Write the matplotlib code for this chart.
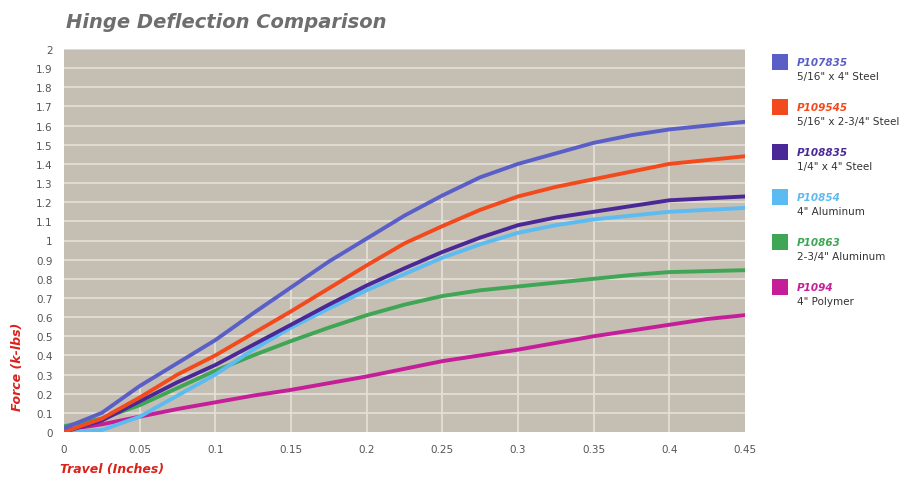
import numpy as np
import matplotlib
matplotlib.use("Agg")
import matplotlib.pyplot as plt
from matplotlib.patches import Rectangle

travel = [0, 0.025, 0.05, 0.075, 0.1, 0.125, 0.15, 0.175, 0.2, 0.225, 0.25,
          0.275, 0.3, 0.325, 0.35, 0.375, 0.4, 0.425, 0.45]

p107835 = [0.02, 0.10, 0.24, 0.36, 0.48, 0.62, 0.755, 0.89, 1.01, 1.13, 1.235,
           1.33, 1.40, 1.455, 1.51, 1.55, 1.58, 1.60, 1.62]
p109545 = [0.00, 0.07, 0.18, 0.30, 0.40, 0.515, 0.63, 0.75, 0.87, 0.985, 1.075,
           1.16, 1.23, 1.28, 1.32, 1.36, 1.40, 1.42, 1.44]
p108835 = [0.00, 0.06, 0.16, 0.26, 0.35, 0.455, 0.56, 0.665, 0.765, 0.855, 0.94,
           1.015, 1.08, 1.12, 1.15, 1.18, 1.21, 1.22, 1.23]
p10854 = [0.00, 0.01, 0.08, 0.19, 0.30, 0.43, 0.545, 0.645, 0.74, 0.825, 0.91,
          0.98, 1.04, 1.08, 1.11, 1.13, 1.15, 1.16, 1.17]
p10863 = [0.03, 0.07, 0.14, 0.23, 0.32, 0.40, 0.475, 0.545, 0.61, 0.665, 0.71,
          0.74, 0.76, 0.78, 0.80, 0.82, 0.835, 0.84, 0.845]
p1094 = [0.01, 0.04, 0.08, 0.12, 0.155, 0.19, 0.22, 0.255, 0.29, 0.33, 0.37,
         0.40, 0.43, 0.465, 0.50, 0.53, 0.56, 0.59, 0.61]

codes = ["P107835", "P109545", "P108835", "P10854", "P10863", "P1094"]
descriptions = ['5/16" x 4" Steel', '5/16" x 2-3/4" Steel', '1/4" x 4" Steel',
                '4" Aluminum', '2-3/4" Aluminum', '4" Polymer']
series = [p107835, p109545, p108835, p10854, p10863, p1094]
colors = ["#5a5fc8", "#f24a1c", "#4b2898", "#5cbcf2", "#3ea654", "#c41f98"]

y_ticks = [round(0.1 * i, 1) for i in range(21)]
y_labels = ["0" if v == 0 else ("%g" % v) for v in y_ticks]
x_ticks = [0, 0.05, 0.1, 0.15, 0.2, 0.25, 0.3, 0.35, 0.4, 0.45]
x_labels = ["0", "0.05", "0.1", "0.15", "0.2", "0.25", "0.3", "0.35", "0.4", "0.45"]

fig = plt.figure(figsize=(9.1, 4.81), dpi=100)
fig.patch.set_facecolor("white")
ax = fig.add_axes([64 / 910, 1 - 433 / 481, (745 - 64) / 910, (433 - 50) / 481])
ax.set_facecolor("#c5beb3")
ax.set_xlim(0, 0.45)
ax.set_ylim(0, 2)
for s in ax.spines.values():
    s.set_visible(False)

grid_c = "#e4dfd6"
for yv in y_ticks[1:]:
    ax.axhline(yv, color=grid_c, lw=1.3, zorder=1)
inner = np.array(x_ticks[1:-1])
ax.vlines(inner, 0, np.interp(inner, travel, p107835), color=grid_c, lw=1.3, zorder=1)

for ys, c in zip(series[::-1], colors[::-1]):
    ax.plot(travel, ys, color=c, lw=2.8, solid_capstyle="round",
            solid_joinstyle="round", zorder=3)

ax.set_yticks(y_ticks)
ax.set_yticklabels(y_labels)
ax.set_xticks(x_ticks)
ax.set_xticklabels(x_labels)
ax.tick_params(axis="both", length=0, labelsize=7.5, colors="#555555")
ax.tick_params(axis="y", pad=8)
ax.tick_params(axis="x", pad=9)

fig.text(66 / 910, 1 - 22 / 481, "Hinge Deflection Comparison", fontsize=14,
         fontweight="bold", style="italic", color="#6e6e6e", va="center", ha="left")
fig.text(18 / 910, 1 - 367 / 481, "Force (k-lbs)", fontsize=9, fontweight="bold",
         style="italic", color="#d9231b", rotation=90, va="center", ha="center")
fig.text(60 / 910, 1 - 470 / 481, "Travel (Inches)", fontsize=9, fontweight="bold",
         style="italic", color="#d9231b", va="center", ha="left")

for i, (code, desc, c) in enumerate(zip(codes, descriptions, colors)):
    yc = 63 + i * 45
    fig.patches.append(Rectangle((772 / 910, 1 - (yc + 8) / 481), 16 / 910, 16 / 481,
                                 transform=fig.transFigure, facecolor=c,
                                 edgecolor="none"))
    fig.text(797 / 910, 1 - yc / 481, code, fontsize=7.5, fontweight="bold",
             style="italic", color=c, va="center", ha="left")
    fig.text(797 / 910, 1 - (yc + 14) / 481, desc, fontsize=7.5,
             color="#333333", va="center", ha="left")

fig.savefig("out.png", dpi=100, facecolor="white")
